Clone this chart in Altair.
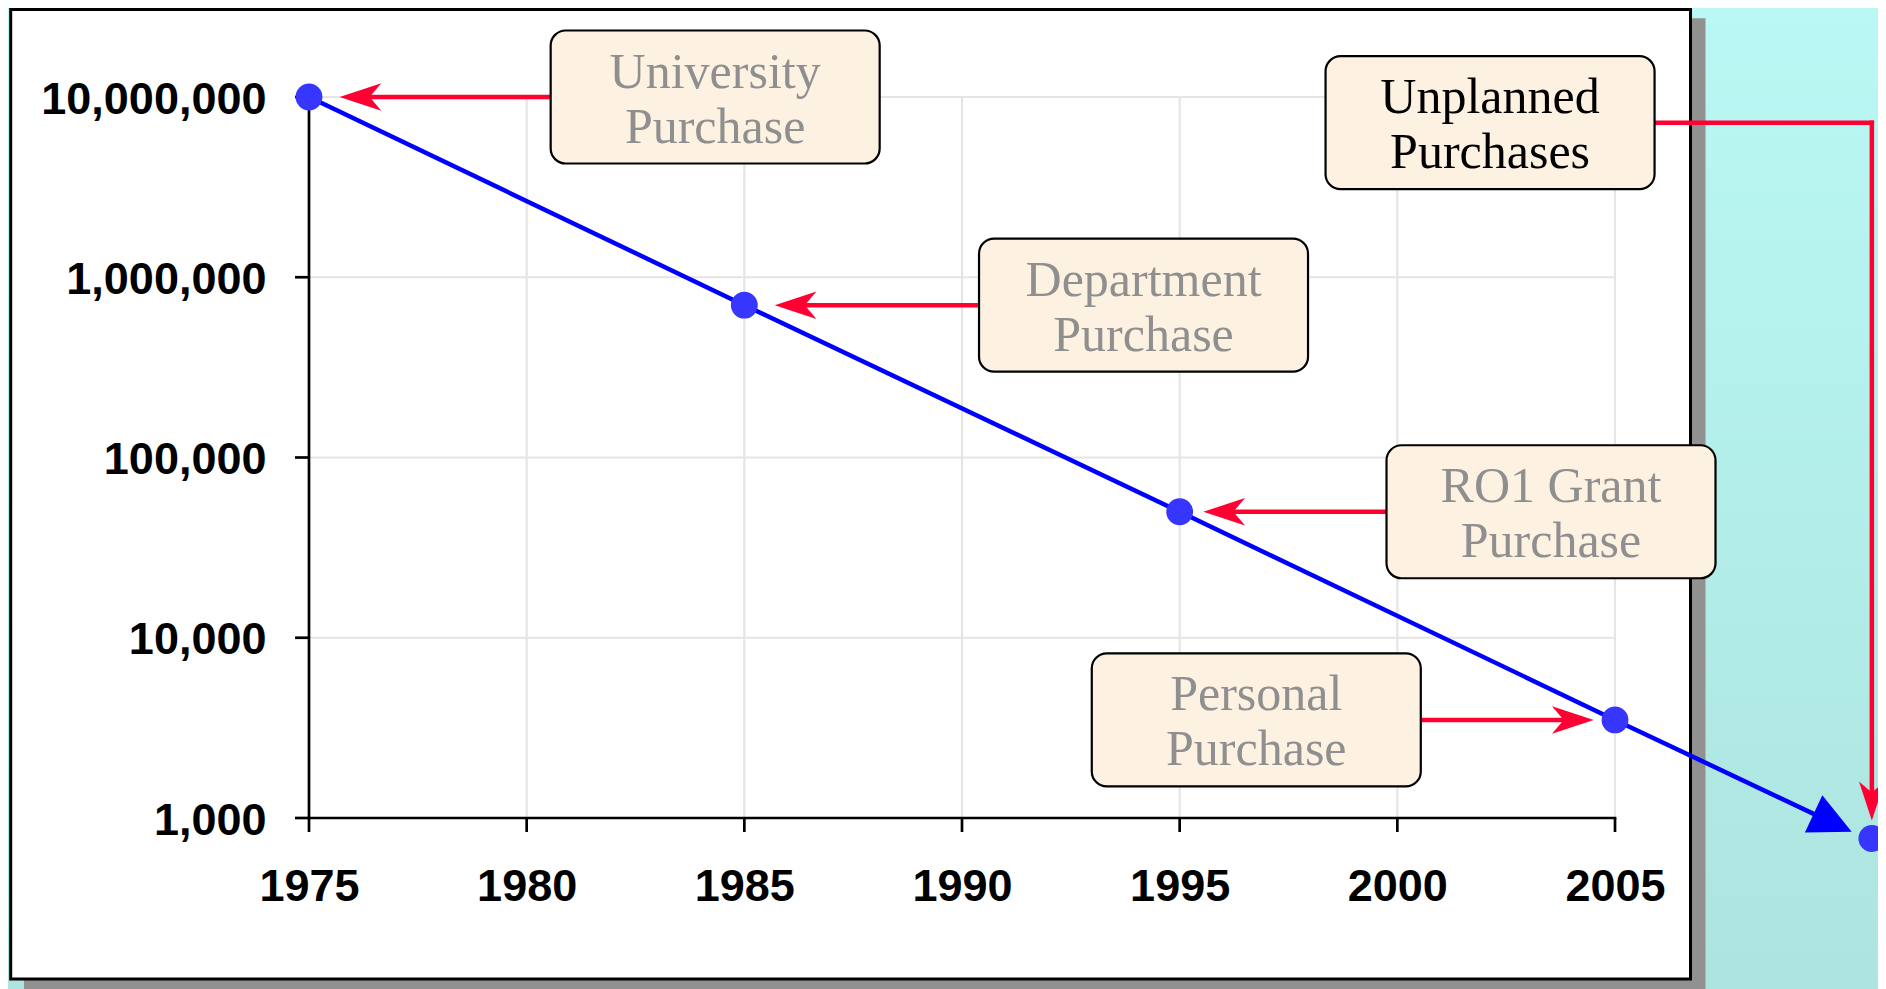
import altair as alt
import pandas as pd

# ---------------- data ----------------
point_years = [1975, 1985, 1995, 2005]
point_values = [10_000_000, 700_000, 50_000, 3_500]

extra_years = [2010.9]          # the point beyond the axes
extra_values = [770]

trend_end_year = 2010.0         # where the blue trend arrow ends
trend_end_value = 940

x_ticks = [1975, 1980, 1985, 1990, 1995, 2000, 2005]
y_ticks = [1_000, 10_000, 100_000, 1_000_000, 10_000_000]

ann_labels = ["University\nPurchase", "Department\nPurchase", "RO1 Grant\nPurchase",
              "Personal\nPurchase", "Unplanned\nPurchases"]
ann_box_year = [1984.33, 1994.17, 2003.53, 1996.76, 2002.13]
ann_box_value = [10_000_000, 700_000, 50_000, 3_500, 7_200_000]
ann_target_year = [1975, 1985, 1995, 2005, 2010.9]
ann_target_value = [10_000_000, 700_000, 50_000, 3_500, 770]

# ---------------- styles ----------------
W, H = 1306, 721
PAD = {"left": 301, "top": 89, "right": 263, "bottom": 171}
RED = "#ff0033"
BLUE_LINE = "#0000ff"
BLUE_PT = "#3636ff"
GRID = "#e5e5e5"
BOX_FILL = "#fdf2e2"
text_colors = ["#8f8f8f", "#8f8f8f", "#8f8f8f", "#8f8f8f", "#000000"]
arrow_gap = [30.6, 30.4, 23.7, 21.3, 18.0]   # px between point centre and arrow tip
ARROW = "M-1,0L1,-0.66L0.44,0L1,0.66Z"       # stealth head pointing left
TRI = "M1,0L-1,-0.98L-1,0.98Z"               # triangle pointing right

xscale = alt.Scale(domain=[1975, 2005], nice=False, zero=False)
yscale = alt.Scale(type="log", domain=[1_000, 10_000_000], nice=False)
label_style = dict(labelFont="Liberation Sans", labelFontSize=45, labelFontWeight="bold",
                   labelColor="black", grid=False, ticks=False, tickSize=0, domain=False,
                   title=None, zindex=1, labelOverlap=False, labelLimit=0)
xaxis = alt.Axis(values=x_ticks, format="d", labelPadding=46, labelFlush=False, **label_style)
yaxis = alt.Axis(values=y_ticks, format=",d", labelPadding=43, labelOffset=2, **label_style)


def X(f):
    return alt.X(f, type="quantitative", scale=xscale, axis=xaxis)


def Y(f):
    return alt.Y(f, type="quantitative", scale=yscale, axis=yaxis)


one = pd.DataFrame({"k": [0]})
pts = pd.DataFrame({"year": point_years + extra_years, "value": point_values + extra_values})
trend = pd.DataFrame({"year": point_years + [trend_end_year],
                      "value": point_values + [trend_end_value]})
ann = pd.DataFrame({"label": ann_labels, "box_year": ann_box_year, "box_value": ann_box_value,
                    "target_year": ann_target_year, "target_value": ann_target_value,
                    "tcolor": text_colors})
xt = pd.DataFrame({"year": x_ticks})
yt = pd.DataFrame({"value": y_ticks})

# ---------------- decoration ----------------
bg = alt.Chart(one).mark_rect(
    fill=alt.Gradient(gradient="linear",
                      stops=[alt.GradientStop(color="#b9f8f4", offset=0),
                             alt.GradientStop(color="#ade4df", offset=1)],
                      x1=0, x2=0, y1=0, y2=1)
).encode(x=alt.value(-PAD["left"]), x2=alt.value(W + PAD["right"]),
         y=alt.value(-PAD["top"]), y2=alt.value(H + PAD["bottom"]))

shadow = alt.Chart(one).mark_rect(fill="#919191").encode(
    x=alt.value(-285), x2=alt.value(1396.5), y=alt.value(-78.7), y2=alt.value(H + PAD["bottom"] + 5))

panel = alt.Chart(one).mark_rect(fill="white", stroke="black", strokeWidth=3).encode(
    x=alt.value(-298.3), x2=alt.value(1381.5), y=alt.value(-87.5), y2=alt.value(882))

grid_x = alt.Chart(pd.DataFrame({"year": x_ticks[1:]})).mark_rule(color=GRID, strokeWidth=2.2).encode(
    x=X("year"), y=alt.value(0), y2=alt.value(H))
grid_y = alt.Chart(yt).mark_rule(color=GRID, strokeWidth=2.2).encode(
    y=Y("value"), x=alt.value(0), x2=alt.value(W))

dom_x = alt.Chart(one).mark_rule(color="black", strokeWidth=2.7, strokeCap="square").encode(
    x=alt.value(0), x2=alt.value(W), y=alt.value(H))
dom_y = alt.Chart(one).mark_rule(color="black", strokeWidth=2.7, strokeCap="square").encode(
    x=alt.value(0), y=alt.value(0), y2=alt.value(H))
tick_x = alt.Chart(xt).mark_rule(color="black", strokeWidth=2.7).encode(
    x=X("year"), y=alt.value(H), y2=alt.value(H + 14))
tick_y = alt.Chart(yt).mark_rule(color="black", strokeWidth=2.7).encode(
    y=Y("value"), x=alt.value(-14), x2=alt.value(0))

# ---------------- annotation arrows ----------------
red_rules = []
red_heads = []
for i in range(4):
    row = ann.iloc[[i]]
    d = 1 if ann_box_year[i] > ann_target_year[i] else -1
    red_rules.append(alt.Chart(row).mark_rule(color=RED, strokeWidth=4.5,
                                              x2Offset=d * (arrow_gap[i] + 28)).encode(
        x=X("box_year"), x2=alt.X2("target_year"), y=Y("target_value")))
    red_heads.append(alt.Chart(row).mark_point(shape=ARROW, filled=True, color=RED, opacity=1,
                                               size=1740, strokeWidth=0,
                                               angle=0 if d > 0 else 180,
                                               xOffset=d * (arrow_gap[i] + 20.85)).encode(
        x=X("target_year"), y=Y("target_value")))

row = ann.iloc[[4]]
red_rules.append(alt.Chart(row).mark_rule(color=RED, strokeWidth=4.5, strokeCap="square").encode(
    x=X("box_year"), x2=alt.X2("target_year"), y=Y("box_value")))
red_rules.append(alt.Chart(row).mark_rule(color=RED, strokeWidth=4.5, strokeCap="square",
                                          y2Offset=-(arrow_gap[4] + 26)).encode(
    x=X("target_year"), y=Y("box_value"), y2=alt.Y2("target_value")))
red_heads.append(alt.Chart(row).mark_point(shape=ARROW, filled=True, color=RED, opacity=1,
                                           size=1521, strokeWidth=0, angle=270,
                                           yOffset=-(arrow_gap[4] + 19.5)).encode(
    x=X("target_year"), y=Y("target_value")))

boxes = alt.Chart(ann).mark_rect(width=329, height=133, cornerRadius=15, fill=BOX_FILL,
                                 stroke="black", strokeWidth=2.2).encode(
    x=X("box_year"), y=Y("box_value"))

texts = alt.Chart(ann).mark_text(font="Liberation Serif", fontSize=50, lineHeight=55,
                                 lineBreak="\n", align="center", baseline="middle", dy=-24.5).encode(
    x=X("box_year"), y=Y("box_value"), text="label:N",
    color=alt.Color("tcolor:N", scale=None))

# ---------------- data marks ----------------
line = alt.Chart(trend).mark_line(color=BLUE_LINE, strokeWidth=4.5).encode(
    x=X("year"), y=Y("value"), order="year:Q")
points = alt.Chart(pts).mark_circle(size=720, color=BLUE_PT, opacity=1).encode(
    x=X("year"), y=Y("value"))
blue_head = alt.Chart(pd.DataFrame({"year": [trend_end_year], "value": [trend_end_value]})).mark_point(
    shape=TRI, filled=True, color=BLUE_LINE, opacity=1, size=1764, strokeWidth=0, angle=25).encode(
    x=X("year"), y=Y("value"))

chart = alt.layer(
    bg, shadow, panel, grid_x, grid_y, *red_rules, boxes, texts,
    dom_x, dom_y, tick_x, tick_y, line, points, *red_heads, blue_head
).properties(
    width=W, height=H, padding=PAD, autosize=alt.AutoSizeParams(type="none"),
    background="#b9f8f4"
).configure_view(stroke=None, fill=None)

chart.save("out.html", embed_options={"renderer": "svg", "actions": False})
